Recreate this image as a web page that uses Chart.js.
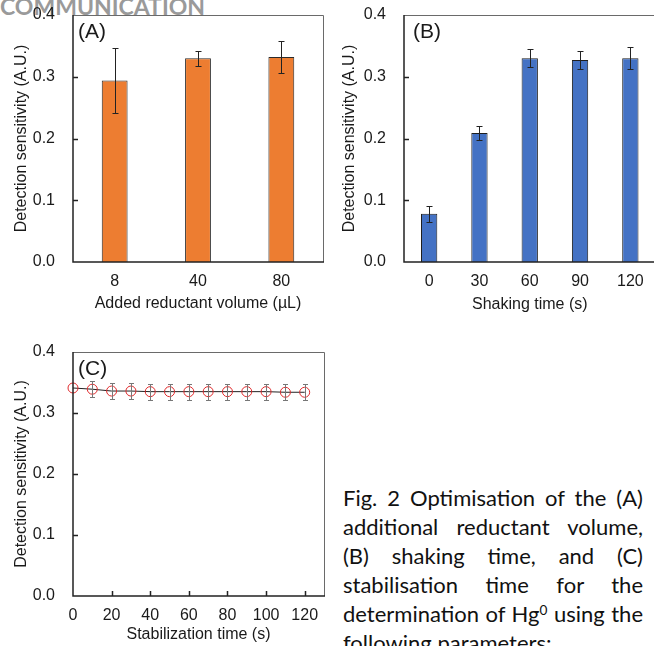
<!DOCTYPE html>
<html>
<head>
<meta charset="utf-8">
<script src="https://cdn.jsdelivr.net/npm/chart.js@4.4.0/dist/chart.umd.min.js"></script>
<style>
  html, body { margin: 0; padding: 0; background: #fff; }
  body { width: 654px; height: 646px; position: relative; overflow: hidden; }
  #header { position: absolute; left: 0; top: -5px; font: bold 23px Lato, sans-serif; line-height: 23px; color: #9a9a9a; }
  canvas { position: absolute; }
  #chartA { left: 0; top: 0; }
  #chartB { left: 330px; top: 0; }
  #chartC { left: 0; top: 330px; }
  #caption { position: absolute; left: 343px; top: 483px; width: 300px; font: 22px Lato, sans-serif; line-height: 29px; color: #111; }
  #caption div { text-align: justify; text-align-last: justify; }
  #caption div.last { text-align-last: left; }
  sup { font-size: 0.62em; line-height: 0; vertical-align: 0.55em; }
</style>
</head>
<body>
<div id="header">COMMUNICATION</div>
<canvas id="chartA" width="330" height="320"></canvas>
<canvas id="chartB" width="330" height="320"></canvas>
<canvas id="chartC" width="330" height="316"></canvas>
<div id="caption">
  <div>Fig. 2 Optimisation of the (A)</div>
  <div>additional reductant volume,</div>
  <div>(B) shaking time, and (C)</div>
  <div>stabilisation time for the</div>
  <div>determination of Hg<sup>0</sup> using the</div>
  <div class="last">following parameters:</div>
</div>
<script>
// --- data ---
const volumeLabels = ['8', '40', '80'];
const volumeValues = [0.294, 0.330, 0.332];
const volumeErrors = [0.053, 0.012, 0.026];

const shakeLabels = ['0', '30', '60', '90', '120'];
const shakeValues = [0.078, 0.209, 0.330, 0.327, 0.330];
const shakeErrors = [0.013, 0.011, 0.015, 0.014, 0.018];

const stabTimes = [0, 10, 20, 30, 40, 50, 60, 70, 80, 90, 100, 110, 120];
const stabValues = [0.341, 0.339, 0.336, 0.336, 0.335, 0.335, 0.335, 0.335, 0.335, 0.335, 0.335, 0.334, 0.334];
const stabErrors = [0, 0.013, 0.013, 0.013, 0.013, 0.013, 0.013, 0.013, 0.013, 0.013, 0.013, 0.013, 0.013];
const stabTicks = [0, 20, 40, 60, 80, 100, 120];

const textColor = '#1a1a1a';
Chart.defaults.font.family = "'Liberation Sans', Arial, sans-serif";
Chart.defaults.font.size = 16;
Chart.defaults.color = textColor;

// tick padding adds to the top padding of the axis, so the label gap comes from tickLength
function yAxis(width, titlePad) {
  return {
    min: 0, max: 0.4,
    grid: { display: false, drawTicks: true, tickLength: 18 }, border: { display: false },
    ticks: { stepSize: 0.1, padding: 0, callback: v => v.toFixed(1) },
    title: { display: true, text: 'Detection sensitivity (A.U.)', padding: { top: titlePad, bottom: 0 } },
    afterFit: s => { s.width = width; }
  };
}

// frame, inside tick marks, error bars and panel letter
function framePlugin(label, labelDx, values, errors, errColor, capHalf) {
  return {
    id: 'frame',
    afterDatasetsDraw(chart) {
      const { ctx, chartArea: a, scales: { x, y } } = chart;
      ctx.save();
      ctx.strokeStyle = errColor;
      ctx.lineWidth = 1;
      ctx.beginPath();
      chart.getDatasetMeta(0).data.forEach((el, i) => {
        if (!errors[i]) return;
        const px = Math.round(el.x) + 0.5;
        const top = Math.round(y.getPixelForValue(values[i] + errors[i])) + 0.5;
        const bot = Math.round(y.getPixelForValue(values[i] - errors[i])) + 0.5;
        ctx.moveTo(px, top); ctx.lineTo(px, bot);
        ctx.moveTo(px - capHalf, top); ctx.lineTo(px + capHalf, top);
        ctx.moveTo(px - capHalf, bot); ctx.lineTo(px + capHalf, bot);
      });
      ctx.stroke();

      // top/right of box
      ctx.strokeStyle = '#6a6a6a';
      ctx.lineWidth = 1;
      ctx.beginPath();
      ctx.moveTo(a.left, a.top + 0.5);
      ctx.lineTo(a.right + 0.5, a.top + 0.5);
      ctx.lineTo(a.right + 0.5, a.bottom);
      ctx.stroke();
      // axes
      ctx.strokeStyle = '#222';
      ctx.lineWidth = 1.5;
      ctx.beginPath();
      ctx.moveTo(a.left, a.top);
      ctx.lineTo(a.left, a.bottom);
      ctx.lineTo(a.right + 1, a.bottom);
      y.ticks.forEach(t => {
        if (t.value > 0 && t.value < 0.4) {
          const py = Math.round(y.getPixelForValue(t.value)) + 0.5;
          ctx.moveTo(a.left, py); ctx.lineTo(a.left + 5, py);
        }
      });
      if (x.type === 'linear') {
        x.ticks.forEach(t => {
          if (t.value > 0) {
            const px = Math.round(x.getPixelForValue(t.value)) + 0.5;
            ctx.moveTo(px, a.bottom); ctx.lineTo(px, a.bottom - 5);
          }
        });
      }
      ctx.stroke();

      ctx.fillStyle = textColor;
      ctx.font = "21px 'Liberation Sans', Arial, sans-serif";
      ctx.textBaseline = 'alphabetic';
      ctx.fillText(label, a.left + labelDx, a.top + 22.5);
      ctx.restore();
    }
  };
}

const common = {
  responsive: false, animation: false, devicePixelRatio: 1,
  plugins: { legend: { display: false }, tooltip: { enabled: false } }
};

// (A) reductant volume
new Chart(document.getElementById('chartA'), {
  type: 'bar',
  data: {
    labels: volumeLabels,
    datasets: [{
      data: volumeValues, backgroundColor: '#ED7D31', borderColor: '#2a2a2a',
      borderWidth: 1, barPercentage: 0.31, categoryPercentage: 1
    }]
  },
  options: {
    ...common,
    layout: { padding: { top: 15, right: 7, left: 0, bottom: 0 } },
    scales: {
      x: {
        grid: { display: false, drawTicks: false }, border: { display: false },
        ticks: { padding: 10 },
        title: { display: true, text: 'Added reductant volume (µL)', padding: { top: 0, bottom: 7 } },
        afterFit: s => { s.height = 58; }
      },
      y: yAxis(73, 12)
    }
  },
  plugins: [framePlugin('(A)', 5, volumeValues, volumeErrors, '#222', 3)]
});

// (B) shaking time
new Chart(document.getElementById('chartB'), {
  type: 'bar',
  data: {
    labels: shakeLabels,
    datasets: [{
      data: shakeValues, backgroundColor: '#4472C4', borderColor: '#1e1e1e',
      borderWidth: 1, barPercentage: 0.324, categoryPercentage: 1
    }]
  },
  options: {
    ...common,
    layout: { padding: { top: 15, right: 4.5, left: 0, bottom: 0 } },
    scales: {
      x: {
        grid: { display: false, drawTicks: false }, border: { display: false },
        ticks: { padding: 10 },
        title: { display: true, text: 'Shaking time (s)', padding: { top: 0, bottom: 6 } },
        afterFit: s => { s.height = 58; }
      },
      y: yAxis(74, 10)
    }
  },
  plugins: [framePlugin('(B)', 9, shakeValues, shakeErrors, '#222', 3)]
});

// (C) stabilisation time
new Chart(document.getElementById('chartC'), {
  type: 'line',
  data: {
    datasets: [{
      data: stabTimes.map((t, i) => ({ x: t, y: stabValues[i] })),
      borderColor: '#222', borderWidth: 1, tension: 0, clip: false,
      pointRadius: 5, pointBorderWidth: 1,
      pointBorderColor: '#e0292b', pointBackgroundColor: 'rgba(0,0,0,0)'
    }]
  },
  options: {
    ...common,
    layout: { padding: { top: 22, right: 6, left: 0, bottom: 0 } },
    scales: {
      x: {
        type: 'linear', min: 0, max: 130,
        grid: { display: false, drawTicks: false }, border: { display: false },
        ticks: { padding: 10 },
        afterBuildTicks: s => { s.ticks = stabTicks.map(v => ({ value: v })); },
        title: { display: true, text: 'Stabilization time (s)', padding: { top: 0, bottom: 2 } },
        afterFit: s => { s.height = 50; }
      },
      y: yAxis(73, 11.5)
    }
  },
  plugins: [framePlugin('(C)', 5, stabValues, stabErrors, '#777', 2.5)]
});
</script>
</body>
</html>
